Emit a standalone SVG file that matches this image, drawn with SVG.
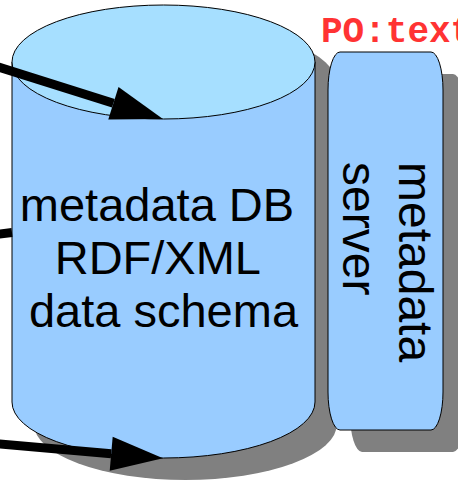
<svg xmlns="http://www.w3.org/2000/svg" width="458" height="480" viewBox="0 0 458 480">
  <style>
    .shadow { fill: #808080; stroke: none; }
    .body { fill: #99ccff; stroke: #000; stroke-width: 1; }
    .top { fill: #a6dfff; stroke: #000; stroke-width: 1; }
    .lbl { font-family: "Liberation Sans", Arial, sans-serif; font-size: 47px; fill: #000; }
    .srv { font-size: 48px; }
    .po { font-family: "Liberation Mono", "Courier New", monospace; font-weight: bold; font-size: 36px; fill: #ff3333; }
    .conn { fill: none; stroke: #000; stroke-width: 9; }
  </style>
  <defs>
    <marker id="ah" markerUnits="userSpaceOnUse" markerWidth="52" markerHeight="34" refX="0" refY="17" orient="auto" overflow="visible">
      <path d="M0,0 L52,17 L0,34 Z" fill="#000"/>
    </marker>
  </defs>

  <rect width="458" height="480" fill="#fff"/>

  <text class="po" x="321" y="42">PO:text</text>

  <g id="db-shadow">
    <path class="shadow" d="M34,84 L34,424 A151.5,56 0 0 0 337,424 L337,84 A151.5,57 0 0 0 34,84 Z"/>
  </g>
  <g id="server-shadow">
    <rect class="shadow" x="350" y="74" width="115" height="378" rx="12" ry="38"/>
  </g>

  <g id="metadata-db">
    <path class="body" d="M12,62 L12,402 A151.5,56 0 0 0 315,402 L315,62 Z"/>
    <ellipse class="top" cx="163.5" cy="62" rx="151.5" ry="57"/>
    <text class="lbl" text-anchor="middle">
      <tspan x="163.5" y="221">metadata DB</tspan>
      <tspan x="163.5" y="274">RDF/XML</tspan>
      <tspan x="163.5" y="327">data schema</tspan>
    </text>
  </g>

  <g id="metadata-server">
    <rect class="body" x="328" y="52" width="115" height="378" rx="12" ry="38"/>
    <text class="lbl srv" transform="translate(399,162) rotate(90)">
      <tspan x="0" y="0">metadata</tspan>
      <tspan x="0" y="56">server</tspan>
    </text>
  </g>

  <g id="connectors">
    <path class="conn" d="M-5,65.9 L113.4,103.3" marker-end="url(#ah)"/>
    <path class="conn" d="M-5,234.5 L12,232.5"/>
    <path class="conn" d="M-5,443.6 L111.2,453.8" marker-end="url(#ah)"/>
  </g>
</svg>
